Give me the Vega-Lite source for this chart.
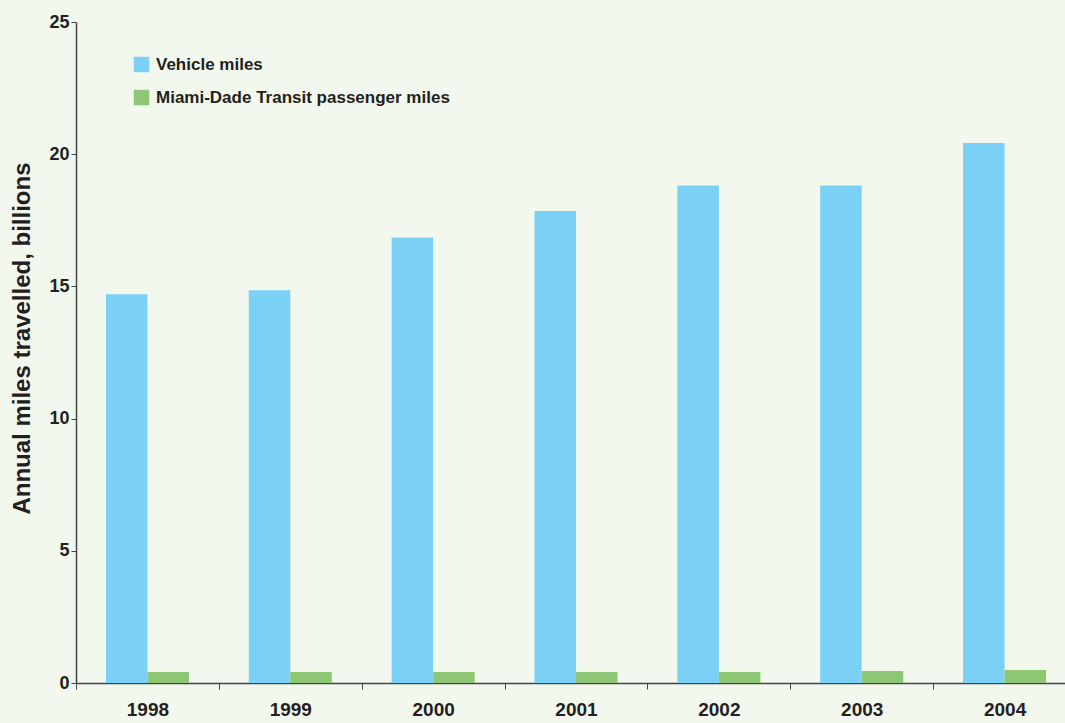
{
  "$schema": "https://vega.github.io/schema/vega-lite/v6.json",
  "width": 989,
  "height": 661,
  "autosize": {"type": "none"},
  "padding": {"left": 76, "top": 22, "right": 0, "bottom": 40},
  "background": "#f3f8ee",
  "config": {"view": {"stroke": null}},
  "data": {
    "values": [
      {"year": "1998", "series": "Vehicle miles", "value": 14.7},
      {"year": "1999", "series": "Vehicle miles", "value": 14.85},
      {"year": "2000", "series": "Vehicle miles", "value": 16.85},
      {"year": "2001", "series": "Vehicle miles", "value": 17.85},
      {"year": "2002", "series": "Vehicle miles", "value": 18.82},
      {"year": "2003", "series": "Vehicle miles", "value": 18.82},
      {"year": "2004", "series": "Vehicle miles", "value": 20.42},
      {"year": "1998", "series": "Miami-Dade Transit passenger miles", "value": 0.42},
      {"year": "1999", "series": "Miami-Dade Transit passenger miles", "value": 0.42},
      {"year": "2000", "series": "Miami-Dade Transit passenger miles", "value": 0.42},
      {"year": "2001", "series": "Miami-Dade Transit passenger miles", "value": 0.42},
      {"year": "2002", "series": "Miami-Dade Transit passenger miles", "value": 0.42},
      {"year": "2003", "series": "Miami-Dade Transit passenger miles", "value": 0.45},
      {"year": "2004", "series": "Miami-Dade Transit passenger miles", "value": 0.49}
    ]
  },
  "mark": {"type": "bar"},
  "encoding": {
    "x": {
      "field": "year",
      "type": "nominal",
      "scale": {"paddingInner": 0, "paddingOuter": 0, "range": [0, 1000]},
      "axis": {
        "title": null,
        "labelAngle": 0,
        "tickBand": "extent",
        "tickSize": 6,
        "tickColor": "#444444",
        "domainColor": "#444444",
        "domainWidth": 1.5,
        "labelFont": "Liberation Sans",
        "labelFontWeight": "bold",
        "labelFontSize": 19,
        "labelColor": "#231f20",
        "labelPadding": 11
      }
    },
    "xOffset": {
      "field": "series",
      "type": "nominal",
      "sort": ["Vehicle miles", "Miami-Dade Transit passenger miles"],
      "scale": {"paddingOuter": 0.72, "paddingInner": 0}
    },
    "y": {
      "field": "value",
      "type": "quantitative",
      "scale": {"domain": [0, 25]},
      "axis": {
        "values": [0, 5, 10, 15, 20, 25],
        "grid": false,
        "title": "Annual miles travelled, billions",
        "titleFont": "Liberation Sans",
        "titleFontSize": 24,
        "titleFontWeight": "bold",
        "titleColor": "#231f20",
        "titleAngle": -90,
        "titleX": -54,
        "titleY": 316,
        "titleAlign": "center",
        "titleBaseline": "middle",
        "tickSize": 5,
        "tickColor": "#444444",
        "domainColor": "#444444",
        "domainWidth": 1.5,
        "labelFont": "Liberation Sans",
        "labelFontSize": 18,
        "labelFontWeight": "bold",
        "labelColor": "#231f20",
        "labelPadding": 2
      }
    },
    "color": {
      "field": "series",
      "type": "nominal",
      "scale": {
        "domain": ["Vehicle miles", "Miami-Dade Transit passenger miles"],
        "range": ["#7bd1f5", "#8ec774"]
      },
      "legend": {
        "title": null,
        "orient": "none",
        "legendX": 57,
        "legendY": 34,
        "symbolType": "square",
        "symbolSize": 240,
        "symbolStrokeWidth": 0,
        "symbolOpacity": 1,
        "labelFont": "Liberation Sans",
        "labelFontSize": 17,
        "labelFontWeight": "bold",
        "labelColor": "#231f20",
        "labelOffset": 6,
        "labelLimit": 500,
        "rowPadding": 15,
        "padding": 0
      }
    }
  }
}
